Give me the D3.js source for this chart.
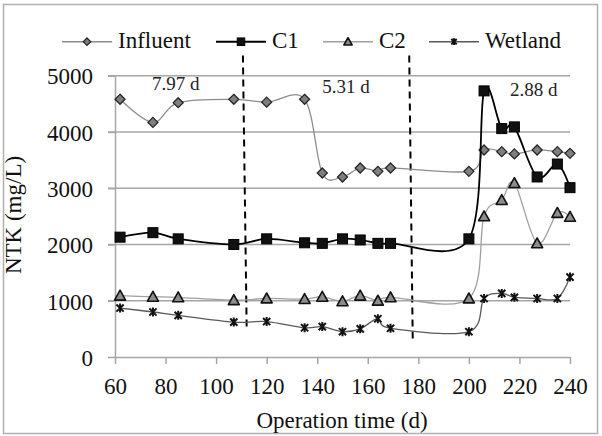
<!DOCTYPE html>
<html>
<head>
<meta charset="utf-8">
<script src="https://cdn.jsdelivr.net/npm/d3@7"></script>
<style>
  html, body { margin: 0; padding: 0; background: #fff; }
  svg { display: block; }
  text { font-family: 'Liberation Serif', 'Times New Roman', Times, serif; }
  .grid line { stroke: #a6a6a6; stroke-width: 1.5; }
  .axis path, .axis line { stroke: #a6a6a6; stroke-width: 1.5; }
  .axis text { fill: #111; font-size: 23px; }
</style>
</head>
<body>
<svg id="chart" width="602" height="436"></svg>
<script>
// Operation time (d) of each sampling
const days = [62, 75, 85, 107, 120, 135, 142, 150, 157, 164, 169, 200, 206, 213, 218, 227, 235, 240];

// NTK (mg/L) per stream
const influent = [4580, 4170, 4520, 4580, 4530, 4580, 3270, 3200, 3360, 3300, 3360, 3300, 3680, 3650, 3610, 3680, 3650, 3620];
const c1       = [2130, 2210, 2100, 2000, 2100, 2030, 2020, 2100, 2080, 2020, 2020, 2100, 4730, 4060, 4090, 3200, 3430, 3010];
const c2       = [1090, 1070, 1060, 1010, 1040, 1030, 1070, 990, 1090, 1000, 1060, 1040, 2500, 2790, 3090, 2020, 2560, 2490];
const wetland  = [870, 800, 740, 620, 630, 520, 540, 450, 500, 680, 510, 450, 1040, 1130, 1060, 1040, 1040, 1420];

const xTicks = [60, 80, 100, 120, 140, 160, 180, 200, 220, 240];
const yTicks = [0, 1000, 2000, 3000, 4000, 5000];

// HRT period dividers (slightly slanted, as drawn) and labels
const dividers = [
  { x0: 110.6, y0: 5360, x1: 112.1, y1: 480 },
  { x0: 176.4, y0: 5360, x1: 177.8, y1: 250 }
];
const periodLabels = [
  { text: '7.97 d', x: 84, y: 4740 },
  { text: '5.31 d', x: 151.4, y: 4700 },
  { text: '2.88 d', x: 225.7, y: 4645 }
];

const series = [
  { name: 'Influent', values: influent, line: '#8c8c8c', lw: 1.3, marker: 'diamond', fill: '#7f7f7f', stroke: '#262626' },
  { name: 'C1',       values: c1,       line: '#000',    lw: 1.8, marker: 'square',  fill: '#111',    stroke: '#000' },
  { name: 'C2',       values: c2,       line: '#a0a0a0', lw: 1.3, marker: 'triangle', fill: '#8c8c8c', stroke: '#111' },
  { name: 'Wetland',  values: wetland,  line: '#595959', lw: 1.3, marker: 'star',    fill: 'none',    stroke: '#111' }
];

const FONT = "'Liberation Serif', 'Times New Roman', Times, serif";

const svg = d3.select('#chart');
const x = d3.scaleLinear().domain([60, 240]).range([115, 570]);
const y = d3.scaleLinear().domain([0, 5000]).range([357, 75.7]);

// outer frame
svg.append('rect').attr('x', 3.5).attr('y', 4.5).attr('width', 594).attr('height', 429)
  .attr('fill', 'none').attr('stroke', '#b0b0b0').attr('stroke-width', 1.5);

// gridlines
svg.append('g').attr('class', 'grid').selectAll('line')
  .data(yTicks.filter((d) => d > 0))
  .join('line')
  .attr('x1', 108).attr('x2', x(240))
  .attr('y1', (d) => y(d)).attr('y2', (d) => y(d));

// axes
const xAxis = svg.append('g').attr('class', 'axis')
  .attr('transform', `translate(0,${y(0)})`)
  .call(d3.axisBottom(x).tickValues(xTicks).tickFormat(d3.format('d'))
    .tickSize(7).tickSizeOuter(0).tickPadding(14));
xAxis.attr('font-family', FONT).attr('font-size', 23);
xAxis.selectAll('text').attr('dy', '0.71em');

const yAxis = svg.append('g').attr('class', 'axis')
  .attr('transform', `translate(${x(60)},0)`)
  .call(d3.axisLeft(y).tickValues(yTicks).tickFormat(d3.format('d'))
    .tickSize(7).tickSizeOuter(0).tickPadding(15));
yAxis.attr('font-family', FONT).attr('font-size', 23);
yAxis.selectAll('text').attr('dy', '0.36em');

// axis titles
svg.append('text').attr('x', 342).attr('y', 428).attr('text-anchor', 'middle')
  .attr('font-family', FONT).attr('font-size', 23).attr('fill', '#111').text('Operation time (d)');
svg.append('text').attr('transform', 'translate(21,215) rotate(-90)').attr('text-anchor', 'middle')
  .attr('font-family', FONT).attr('font-size', 23).attr('fill', '#111').text('NTK (mg/L)');

// dashed dividers
svg.append('g').selectAll('line')
  .data(dividers)
  .join('line')
  .attr('x1', (d) => x(d.x0)).attr('y1', (d) => y(d.y0))
  .attr('x2', (d) => x(d.x1)).attr('y2', (d) => y(d.y1))
  .attr('stroke', '#000').attr('stroke-width', 2).attr('stroke-dasharray', '7,5');

svg.append('g').selectAll('text')
  .data(periodLabels)
  .join('text')
  .attr('x', (d) => x(d.x)).attr('y', (d) => y(d.y))
  .attr('text-anchor', 'middle').attr('font-family', FONT).attr('font-size', 19).attr('fill', '#222')
  .text((d) => d.text);

// marker shapes
function drawMarker(sel, kind, size, s) {
  if (kind === 'diamond') {
    sel.append('path').attr('d', `M0,${-size}L${size},0L0,${size}L${-size},0Z`)
      .attr('fill', s.fill).attr('stroke', s.stroke).attr('stroke-width', 1.3);
  } else if (kind === 'square') {
    sel.append('rect').attr('x', -size).attr('y', -size).attr('width', 2 * size).attr('height', 2 * size)
      .attr('fill', s.fill).attr('stroke', s.stroke).attr('stroke-width', 1);
  } else if (kind === 'triangle') {
    sel.append('path').attr('d', `M0,${-size}L${size},${size * 0.8}L${-size},${size * 0.8}Z`)
      .attr('fill', s.fill).attr('stroke', s.stroke).attr('stroke-width', 1.6).attr('stroke-linejoin', 'round');
  } else {
    const a = size * 0.8;
    sel.append('path').attr('d', `M${-a},${-a}L${a},${a}M${-a},${a}L${a},${-a}M0,${-size}L0,${size}`)
      .attr('stroke', s.stroke).attr('stroke-width', 2).attr('fill', 'none');
  }
}

const line = d3.line().curve(d3.curveCatmullRom.alpha(0))
  .x((d) => x(d[0])).y((d) => y(d[1]));

const sizes = { diamond: 5, square: 5, triangle: 5.5, star: 4.5 };

series.forEach((s) => {
  const pts = days.map((dd, i) => [dd, s.values[i]]);
  svg.append('path').datum(pts)
    .attr('d', line).attr('fill', 'none')
    .attr('stroke', s.line).attr('stroke-width', s.lw);
  svg.append('g').selectAll('g')
    .data(pts)
    .join('g')
    .attr('transform', (d) => `translate(${x(d[0])},${y(d[1])})`)
    .each(function () { drawMarker(d3.select(this), s.marker, sizes[s.marker], s); });
});

// legend
const legendX = [62, 216, 323, 429];
const legend = svg.append('g').selectAll('g')
  .data(series)
  .join('g')
  .attr('transform', (d, i) => `translate(${legendX[i]},41.7)`);
legend.append('line').attr('x1', 0).attr('x2', 50)
  .attr('stroke', (d) => d.line).attr('stroke-width', (d) => d.lw + 0.3);
legend.each(function (d) { drawMarker(d3.select(this).append('g').attr('transform', 'translate(25,0)'), d.marker, sizes[d.marker] * 0.75, d); });
legend.append('text').attr('x', 56).attr('y', 6).attr('font-family', FONT).attr('font-size', 23).attr('fill', '#111')
  .text((d) => d.name);
</script>
</body>
</html>
